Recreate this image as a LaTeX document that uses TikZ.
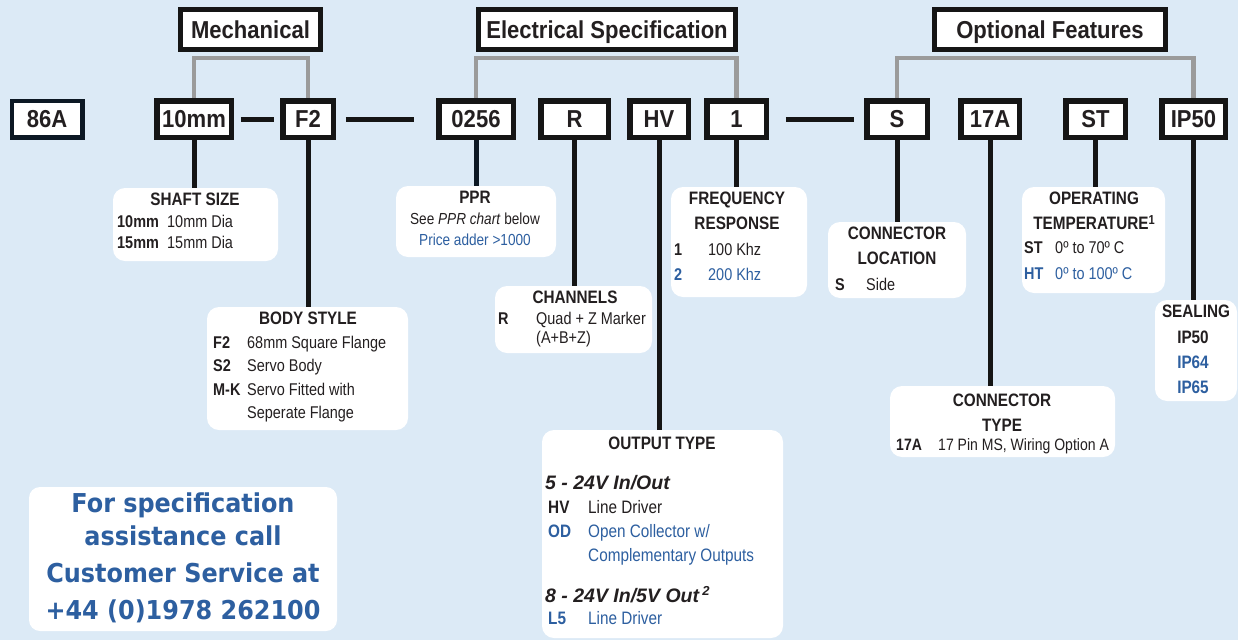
\documentclass[tikz,border=0pt]{standalone}
\usepackage{fontspec}
\setmainfont{Liberation Sans}[FakeStretch=0.85]
\newfontfamily\codefont{Liberation Sans}[FakeStretch=0.9]
\newfontfamily\widefont{Liberation Sans}
\newfontfamily\contactfont{DejaVu Sans}[FakeStretch=0.92]
\usetikzlibrary{backgrounds}
\definecolor{bgc}{HTML}{DCEAF6}
\definecolor{txt}{HTML}{231F20}
\definecolor{blu}{HTML}{2D5FA0}
\definecolor{brk}{HTML}{9B9B9B}
\definecolor{codeblack}{HTML}{151515}
\definecolor{navyblack}{HTML}{0C1824}
\begin{document}
\begin{tikzpicture}[x=1pt,y=-1pt,
  codebox/.style={draw=codeblack, line width=5.5pt, fill=white, inner sep=0pt,
    minimum height=36.5pt, text height=16.5pt, text depth=0pt, text=txt,
    font=\codefont\fontsize{24.5}{24.5}\selectfont\bfseries},
  headbox/.style={codebox, line width=5pt, minimum height=40pt, text height=17pt},
  detail/.style={fill=white, draw=none, rounded corners=12pt, inner sep=0pt},
  ttl/.style={anchor=base, inner sep=0pt, text=txt, font=\fontsize{18}{18}\selectfont\bfseries},
  keyt/.style={anchor=base west, inner sep=0pt, text=txt, font=\fontsize{17}{17}\selectfont\bfseries},
  desct/.style={anchor=base west, inner sep=0pt, text=txt, font=\fontsize{17}{17}\selectfont},
  ctrt/.style={anchor=base, inner sep=0pt, text=txt, font=\fontsize{17}{17}\selectfont},
  bluetxt/.style={text=blu},
  bigit/.style={anchor=base west, inner sep=0pt, text=txt, font=\widefont\fontsize{19.5}{19.5}\selectfont\bfseries\itshape},
  contactt/.style={anchor=base, inner sep=0pt, text=blu, font=\contactfont\fontsize{26}{26}\selectfont\bfseries},
  conn/.style={draw=codeblack, line width=5pt},
  bracket/.style={draw=brk, line width=4.5pt}]
\useasboundingbox (0,0) rectangle (1238,640);

% header boxes
\node[headbox, minimum width=140pt] (mech) at (250.5,29.5) {Mechanical};
\node[headbox, minimum width=257pt] (elec) at (607,29.5) {Electrical Specification};
\node[headbox, minimum width=231pt] (opt) at (1050,29.5) {Optional Features};

% code boxes
\node[codebox, minimum width=70.5pt, draw=navyblack, line width=4.5pt] (c86) at (47,119) {86A};
\node[codebox, minimum width=74.5pt] (c10) at (194,119) {10mm};
\node[codebox, minimum width=50.5pt] (cf2) at (308,119) {F2};
\node[codebox, minimum width=74.5pt] (c0256) at (476,119) {0256};
\node[codebox, minimum width=67.5pt] (cr) at (574.5,119) {R};
\node[codebox, minimum width=58.5pt] (chv) at (659,119) {HV};
\node[codebox, minimum width=59.5pt] (c1) at (736.5,119) {1};
\node[codebox, minimum width=60.5pt] (cs) at (897,119) {S};
\node[codebox, minimum width=58.5pt] (c17) at (990,119) {17A};
\node[codebox, minimum width=59.5pt] (cst) at (1095.5,119) {ST};
\node[codebox, minimum width=63.5pt] (cip) at (1193.5,119) {IP50};

% detail boxes
\node[detail, minimum width=165pt, minimum height=73pt] (shaft) at (195.5,224.5) {};
\node[detail, minimum width=201pt, minimum height=123pt] (body) at (307.5,368.5) {};
\node[detail, minimum width=160pt, minimum height=71pt] (ppr) at (476,221.5) {};
\node[detail, minimum width=157pt, minimum height=67pt] (chan) at (573.5,319.5) {};
\node[detail, minimum width=136pt, minimum height=110pt] (freq) at (739,242) {};
\node[detail, minimum width=138pt, minimum height=76pt] (cloc) at (897,260) {};
\node[detail, minimum width=143pt, minimum height=106pt] (temp) at (1093.5,240) {};
\node[detail, minimum width=82pt, minimum height=101pt] (seal) at (1196,350.5) {};
\node[detail, minimum width=225pt, minimum height=71pt] (ctype) at (1002.5,421.5) {};
\node[detail, minimum width=241pt, minimum height=208pt] (outp) at (662.5,534) {};
\node[detail, minimum width=308pt, minimum height=144pt, rounded corners=11pt] (contact) at (183,559) {};

\begin{scope}[on background layer]
\fill[bgc] (0,0) rectangle (1238,640);
% brackets
\draw[bracket] (c10.north) |- ([yshift=-6pt]mech.south) -| (cf2.north);
\draw[bracket] (c0256.north) |- ([yshift=-6pt]elec.south) -| (c1.north);
\draw[bracket] (cs.north) |- ([yshift=-6pt]opt.south) -| (cip.north);
% dashes
\draw[conn] ([xshift=6.75pt]c10.east) -- ([xshift=-5.75pt]cf2.west);
\draw[conn] ([xshift=9.75pt]cf2.east) -- ([xshift=-21.75pt]c0256.west);
\draw[conn] ([xshift=16.75pt]c1.east) -- ([xshift=-9.75pt]cs.west);
% verticals
\draw[conn] (c10.south) -- (c10.south |- shaft.north);
\draw[conn] (cf2.south) -- (cf2.south |- body.north);
\draw[conn, draw=navyblack] (c0256.south) -- (c0256.south |- ppr.north);
\draw[conn] (cr.south) -- (cr.south |- chan.north);
\draw[conn] (chv.south) -- (chv.south |- outp.north);
\draw[conn] (c1.south) -- (c1.south |- freq.north);
\draw[conn] (cs.south) -- (cs.south |- cloc.north);
\draw[conn] (c17.south) -- (c17.south |- ctype.north);
\draw[conn] (cst.south) -- (cst.south |- temp.north);
\draw[conn] (cip.south) -- (cip.south |- seal.north);
\end{scope}

% shaft size
\node[ttl] (t-shaft) at (195,205) {SHAFT SIZE};
\node[keyt] (k-s1) at (117,227) {10mm};
\node[desct] (d-s1) at (167,227) {10mm Dia};
\node[keyt] (k-s2) at (117,248) {15mm};
\node[desct] (d-s2) at (167,248) {15mm Dia};

% body style
\node[ttl] (t-body) at (308,324) {BODY STYLE};
\node[keyt] (k-b1) at (213,348) {F2};
\node[desct] (d-b1) at (247,348) {68mm Square Flange};
\node[keyt] (k-b2) at (213,371) {S2};
\node[desct] (d-b2) at (247,371) {Servo Body};
\node[keyt] (k-b3) at (213,395) {M-K};
\node[desct] (d-b3) at (247,395) {Servo Fitted with};
\node[desct] (d-b4) at (247,418) {Seperate Flange};

% ppr
\node[ttl] (t-ppr) at (475,203) {PPR};
\node[ctrt, font=\fontsize{16}{16}\selectfont] (d-p1) at (475,224) {See \textit{PPR chart} below};
\node[ctrt, bluetxt, font=\fontsize{16}{16}\selectfont] (d-p2) at (475,245) {Price adder >1000};

% channels
\node[ttl] (t-chan) at (575,303) {CHANNELS};
\node[keyt] (k-c1) at (498,324) {R};
\node[desct] (d-c1) at (536,324) {Quad + Z Marker};
\node[desct] (d-c2) at (536,343) {(A+B+Z)};

% frequency response
\node[ttl] (t-f1) at (737,204) {FREQUENCY};
\node[ttl] (t-f2) at (737,229) {RESPONSE};
\node[keyt] (k-f1) at (674,255) {1};
\node[desct] (d-f1) at (708,255) {100 Khz};
\node[keyt, bluetxt] (k-f2) at (674,280) {2};
\node[desct, bluetxt] (d-f2) at (708,280) {200 Khz};

% connector location
\node[ttl] (t-l1) at (897,239) {CONNECTOR};
\node[ttl] (t-l2) at (897,264) {LOCATION};
\node[keyt] (k-l1) at (835,290) {S};
\node[desct] (d-l1) at (866,290) {Side};

% operating temperature
\node[ttl] (t-o1) at (1094,204) {OPERATING};
\node[ttl] (t-o2) at (1094,229) {TEMPERATURE\raisebox{5pt}{\fontsize{13}{13}\selectfont 1}};
\node[keyt] (k-o1) at (1024,253) {ST};
\node[desct] (d-o1) at (1055,253) {0º to 70º C};
\node[keyt, bluetxt] (k-o2) at (1024,279) {HT};
\node[desct, bluetxt] (d-o2) at (1055,279) {0º to 100º C};

% sealing
\node[ttl] (t-se) at (1196,317) {SEALING};
\node[ttl] (d-se1) at (1193,343) {IP50};
\node[ttl, bluetxt] (d-se2) at (1193,368) {IP64};
\node[ttl, bluetxt] (d-se3) at (1193,393) {IP65};

% connector type
\node[ttl] (t-ct1) at (1002,406) {CONNECTOR};
\node[ttl] (t-ct2) at (1002,431) {TYPE};
\node[keyt, font=\fontsize{16.5}{16.5}\selectfont\bfseries] (k-ct) at (896,450) {17A};
\node[desct, font=\fontsize{16.5}{16.5}\selectfont] (d-ct) at (938,450) {17 Pin MS, Wiring Option A};

% output type
\node[ttl] (t-out) at (662,449) {OUTPUT TYPE};
\node[bigit] (h-o1) at (545,489) {5 - 24V In/Out};
\node[keyt, font=\fontsize{18}{18}\selectfont\bfseries] (k-ot1) at (548,513) {HV};
\node[desct, font=\fontsize{18}{18}\selectfont] (d-ot1) at (588,513) {Line Driver};
\node[keyt, bluetxt, font=\fontsize{18}{18}\selectfont\bfseries] (k-ot2) at (548,537) {OD};
\node[desct, bluetxt, font=\fontsize{18}{18}\selectfont] (d-ot2) at (588,537) {Open Collector w/};
\node[desct, bluetxt, font=\fontsize{18}{18}\selectfont] (d-ot3) at (588,561) {Complementary Outputs};
\node[bigit] (h-o2) at (545,602) {8 - 24V In/5V Out\,\raisebox{7pt}{\fontsize{13}{13}\selectfont 2}};
\node[keyt, bluetxt, font=\fontsize{18}{18}\selectfont\bfseries] (k-ot4) at (548,624) {L5};
\node[desct, bluetxt, font=\fontsize{18}{18}\selectfont] (d-ot4) at (588,624) {Line Driver};

% contact
\node[contactt] (ct1) at (183,512) {For specification};
\node[contactt] (ct2) at (183,545) {assistance call};
\node[contactt] (ct3) at (183,582) {Customer Service at};
\node[contactt] (ct4) at (183,619) {+44 (0)1978 262100};
\end{tikzpicture}
\end{document}
